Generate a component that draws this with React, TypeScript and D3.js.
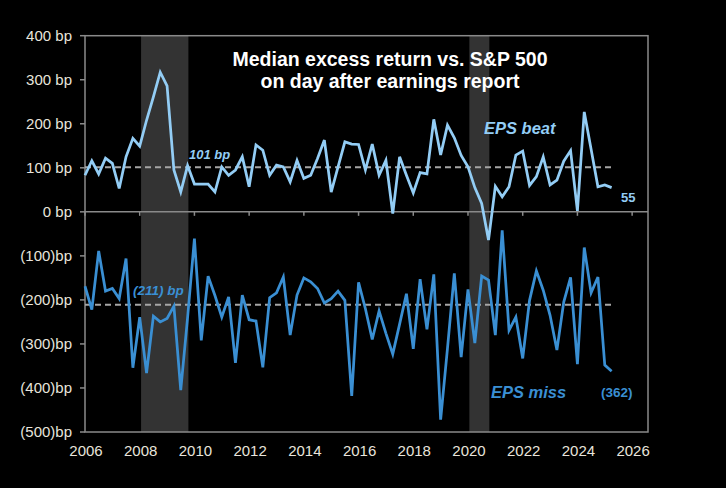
import React, { useEffect, useRef } from 'react';
import * as d3 from 'd3';

// quarterly medians, 2006 Q1 .. 2025 Q2 (bp)
const beatValues: number[] = [
  83, 116, 86, 122, 110, 53, 125, 167, 149, 208, 261, 317, 286, 95, 45, 105, 63, 63, 63, 45, 102, 83, 95, 125, 57, 152,
  140, 83, 106, 102, 68, 117, 76, 83, 121, 163, 45, 102, 159, 154, 153, 95, 154, 83, 117, -4, 125, 83, 43, 89, 86, 210,
  129, 197, 168, 128, 102, 55,
  19, -64, 58, 34, 57, 129, 138, 60, 80, 125, 61, 72, 115, 139, 2, 227, 142, 57, 61, 55,
];

const missValues: number[] = [
  -169, -222, -89, -180, -174, -197, -106, -354, -239, -366, -237, -250, -242, -214, -405, -240, -61, -292, -146, -190,
  -239, -193, -343, -189, -245, -248, -353, -195,
  -184, -148, -280, -189, -150, -159, -174, -207, -197, -180, -201, -418, -160, -220, -290, -225, -276, -323, -255, -186,
  -311, -153, -267, -142, -472,
  -310, -140, -330, -176, -298, -146, -155, -280, -42, -269, -239, -333, -201, -134, -178, -235, -314, -205, -149, -346,
  -81, -184, -148, -348, -362,
];

const beatAvg = 101;
const missAvg = -211;
const recessions: [number, number][] = [[2008.05, 2009.78], [2020.05, 2020.78]];
const yTicks = [400, 300, 200, 100, 0, -100, -200, -300, -400, -500];
const xTicks = [2006, 2008, 2010, 2012, 2014, 2016, 2018, 2020, 2022, 2024, 2026];
const titleLines = ['Median excess return vs. S&P 500', 'on day after earnings report'];

const BEAT = '#93cdf5';
const MISS = '#3a8fd3';
const FONT = 'Arial, "Liberation Sans", sans-serif';

const fmtY = (v: number) => (v < 0 ? `(${-v})bp` : `${v} bp`);

const App: React.FC = () => {
  const svgRef = useRef<SVGSVGElement>(null);

  useEffect(() => {
    if (!svgRef.current) return;
    const svg = d3.select(svgRef.current);
    svg.selectAll('*').remove();

    const x = d3.scaleLinear().domain([2006, 2026.58]).range([85, 648]);
    const y = d3.scaleLinear().domain([-500, 400]).range([432, 35.7]);
    const dateOf = (i: number) => 2006 + i * 0.25;

    svg.append('rect').attr('width', 726).attr('height', 488).attr('fill', '#000');

    // recession shading
    svg.selectAll('rect.rec')
      .data(recessions)
      .enter()
      .append('rect')
      .attr('class', 'rec')
      .attr('x', d => x(d[0]))
      .attr('width', d => x(d[1]) - x(d[0]))
      .attr('y', y(400))
      .attr('height', y(-500) - y(400))
      .attr('fill', '#333333');

    // plot frame
    svg.append('rect')
      .attr('x', x(2006)).attr('y', y(400))
      .attr('width', x(2026.58) - x(2006)).attr('height', y(-500) - y(400))
      .attr('fill', 'none').attr('stroke', '#8a8a8a').attr('stroke-width', 1.5);

    // y axis ticks and labels
    const yg = svg.append('g');
    yTicks.forEach(t => {
      yg.append('line')
        .attr('x1', x(2006) - 5).attr('x2', x(2006))
        .attr('y1', y(t)).attr('y2', y(t))
        .attr('stroke', '#8a8a8a').attr('stroke-width', 1.5);
      yg.append('text')
        .attr('x', 72).attr('y', y(t)).attr('dy', '0.35em')
        .attr('text-anchor', 'end')
        .attr('font-family', FONT).attr('font-size', 15)
        .attr('fill', '#e8e4dc')
        .text(fmtY(t));
    });

    // zero line with year ticks
    svg.append('line')
      .attr('x1', x(2006)).attr('x2', x(2026.58))
      .attr('y1', y(0)).attr('y2', y(0))
      .attr('stroke', '#8a8a8a').attr('stroke-width', 1.5);
    xTicks.forEach(t => {
      svg.append('line')
        .attr('x1', x(t)).attr('x2', x(t))
        .attr('y1', y(0)).attr('y2', y(0) + 4)
        .attr('stroke', '#8a8a8a').attr('stroke-width', 1.5);
      svg.append('text')
        .attr('x', x(t) + 1).attr('y', 456)
        .attr('text-anchor', 'middle')
        .attr('font-family', FONT).attr('font-size', 15)
        .attr('fill', '#e8e4dc')
        .text(t);
    });

    // average reference lines
    const lastX = x(dateOf(beatValues.length - 1)) + 1;
    [beatAvg, missAvg].forEach(v => {
      svg.append('line')
        .attr('x1', x(2006)).attr('x2', lastX)
        .attr('y1', y(v)).attr('y2', y(v))
        .attr('stroke', '#a5a5a5').attr('stroke-width', 2)
        .attr('stroke-dasharray', '6,4');
    });

    const line = d3.line<number>()
      .x((_, i) => x(dateOf(i)))
      .y(d => y(d));

    svg.append('path')
      .datum(missValues)
      .attr('d', line)
      .attr('fill', 'none').attr('stroke', MISS).attr('stroke-width', 2.75)
      .attr('stroke-linejoin', 'miter');

    svg.append('path')
      .datum(beatValues)
      .attr('d', line)
      .attr('fill', 'none').attr('stroke', BEAT).attr('stroke-width', 2.75)
      .attr('stroke-linejoin', 'miter');

    // annotations
    const label = (tx: number, ty: number, txt: string, color: string, size: number, italic: boolean, anchor = 'start') =>
      svg.append('text')
        .attr('x', tx).attr('y', ty)
        .attr('text-anchor', anchor)
        .attr('font-family', FONT).attr('font-size', size)
        .attr('font-weight', 'bold')
        .attr('font-style', italic ? 'italic' : 'normal')
        .attr('fill', color)
        .text(txt);

    label(189, y(beatAvg) - 8, `${beatAvg} bp`, BEAT, 13, true);
    label(133, y(missAvg) - 10, `(${-missAvg}) bp`, MISS, 13.5, true);
    label(484, 134, 'EPS beat', BEAT, 16.5, true);
    label(491, 398, 'EPS miss', MISS, 16.5, true);
    label(621, 202, `${beatValues[beatValues.length - 1]}`, BEAT, 13, false);
    label(601, 397, `(${-missValues[missValues.length - 1]})`, MISS, 13.5, false);

    titleLines.forEach((t, i) => {
      svg.append('text')
        .attr('x', 390).attr('y', 66 + i * 21.5)
        .attr('text-anchor', 'middle')
        .attr('font-family', FONT).attr('font-size', 19.5)
        .attr('font-weight', 'bold')
        .attr('fill', '#ffffff')
        .text(t);
    });
  }, []);

  return (
    <div style={{ position: 'absolute', left: 0, top: 0, width: 726, height: 488, background: '#000' }}>
      <svg ref={svgRef} width={726} height={488} style={{ display: 'block' }}></svg>
    </div>
  );
};

export default App;
